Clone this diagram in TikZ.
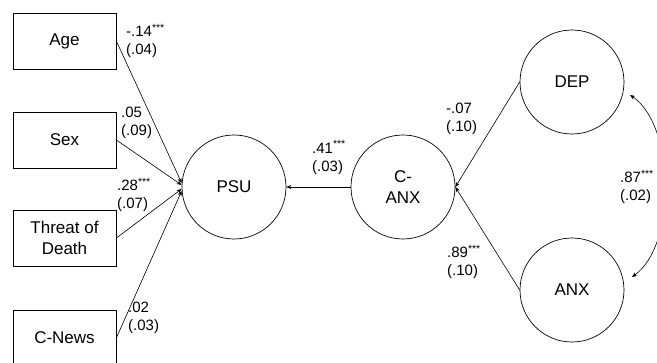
\documentclass[tikz,border=0pt]{standalone}
\usepackage{fontspec}
\setmainfont{Liberation Sans}
\usetikzlibrary{arrows.meta}
\tikzset{
  box/.style={draw, line width=0.7pt, minimum width=103pt, minimum height=56pt, inner sep=0pt, font=\fontsize{17}{20.5}\selectfont, align=center},
  latent/.style={draw, circle, line width=0.7pt, minimum size=104pt, inner sep=0pt, font=\fontsize{17}{21}\selectfont, align=center},
  coef/.style={inner sep=0pt, anchor=west, align=left, font=\fontsize{15}{18}\selectfont},
  path/.style={line width=0.6pt, -{Stealth[length=5pt,width=4pt]}},
  cov/.style={line width=0.6pt, {Stealth[length=5pt,width=4pt]}-{Stealth[length=5pt,width=4pt]}}
}
\begin{document}
\begin{tikzpicture}[x=1pt,y=-1pt]
\useasboundingbox (0,0) rectangle (657,363);
% observed variables
\node[box] (age) at (64.5,41) {Age};
\node[box] (sex) at (64.5,140) {Sex};
\node[box] (threat) at (64.5,238) {Threat of\\Death};
\node[box] (news) at (64.5,338) {C-News};
% latent variables
\node[latent] (psu) at (234,187) {PSU};
\node[latent] (canx) at (403,187) {C-\\ANX};
\node[latent] (dep) at (572,82) {DEP};
\node[latent] (anx) at (572,290) {ANX};
% paths to PSU
\draw[path] (age.east) -- ([yshift=4pt]psu.west);
\draw[path] (sex.east) -- ([yshift=2pt]psu.west);
\draw[path] (threat.east) -- ([yshift=-2pt]psu.west);
\draw[path] (news.east) -- ([yshift=-4pt]psu.west);
\draw[path] (canx.west) -- (psu.east);
\draw[path] (dep.west) -- (canx.east);
\draw[path] (anx.west) -- (canx.east);
% covariance
\coordinate (covA) at (630,95);
\coordinate (covB) at (632,277);
\draw[cov] (covA) .. controls (675,125) and (677,245) .. (covB);
% coefficients
\node[coef] (l1) at (126,41) {-.14\textsuperscript{***}\\(.04)};
\node[coef] (l2) at (121,123) {.05\\(.09)};
\node[coef] (l3) at (117,195) {.28\textsuperscript{***}\\(.07)};
\node[coef] (l4) at (128,318) {.02\\(.03)};
\node[coef] (l5) at (312,157.5) {.41\textsuperscript{***}\\(.03)};
\node[coef] (l6) at (446,119) {-.07\\(.10)};
\node[coef] (l7) at (447,262) {.89\textsuperscript{***}\\(.10)};
\node[coef] (l8) at (620,187) {.87\textsuperscript{***}\\(.02)};
\end{tikzpicture}
\end{document}
